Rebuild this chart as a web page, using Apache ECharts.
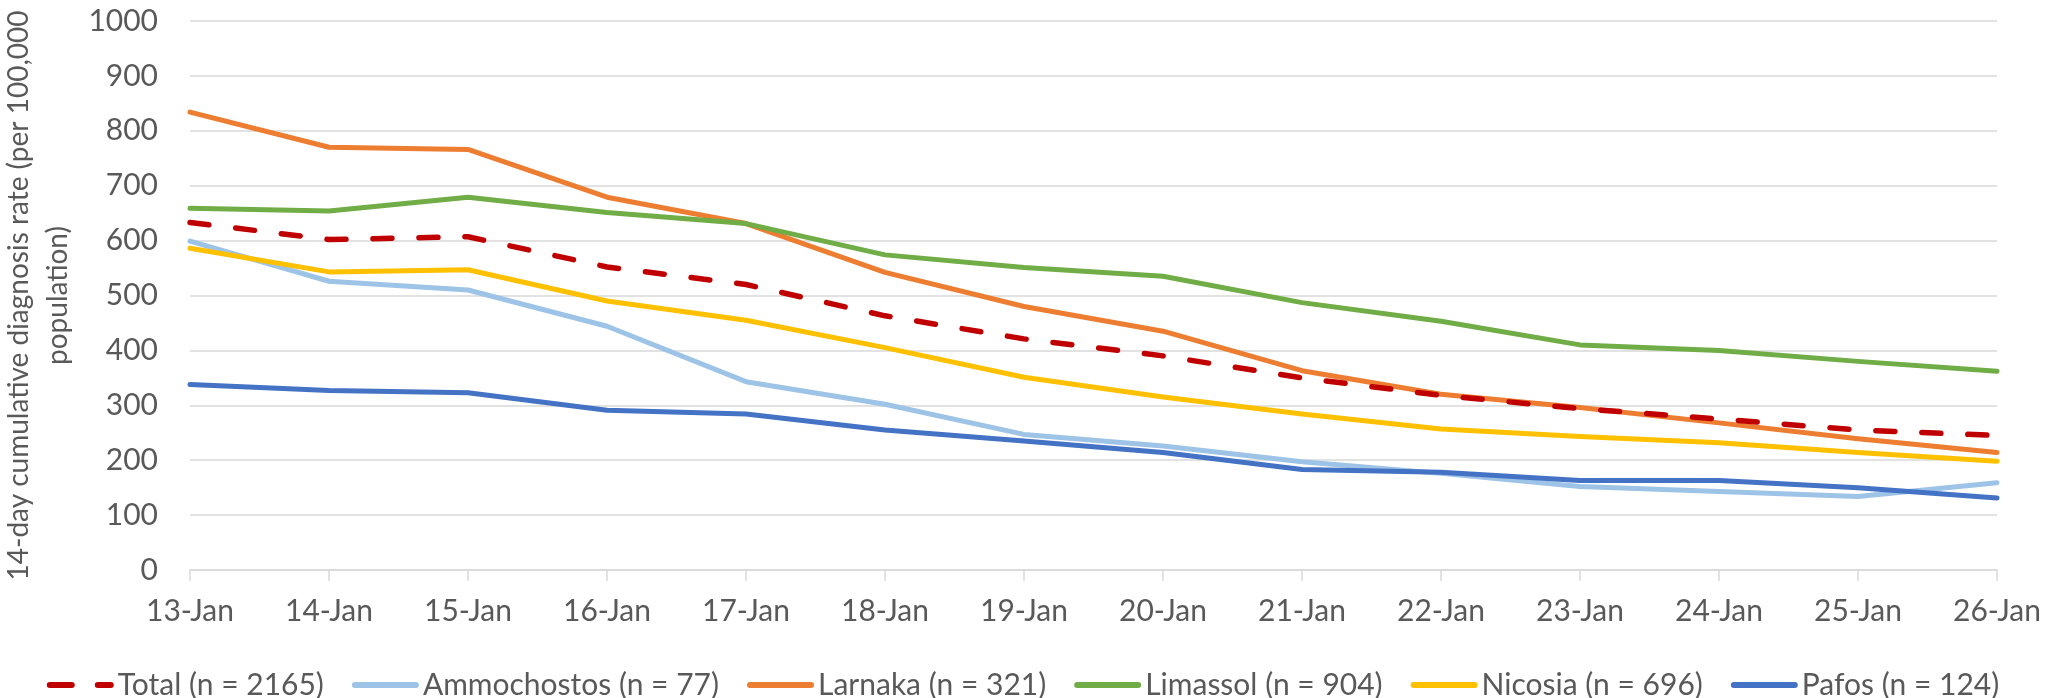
<!DOCTYPE html>
<html>
<head>
<meta charset="utf-8">
<script src="https://cdn.jsdelivr.net/npm/echarts@6/dist/echarts.min.js"></script>
<style>
  html, body { margin: 0; padding: 0; background: #fff; }
  #chart { width: 2046px; height: 698px; }
</style>
</head>
<body>
<div id="chart"></div>
<script>
const days = ["13-Jan", "14-Jan", "15-Jan", "16-Jan", "17-Jan", "18-Jan", "19-Jan",
  "20-Jan", "21-Jan", "22-Jan", "23-Jan", "24-Jan", "25-Jan", "26-Jan"];

const total = [633, 602, 607, 552, 520, 463, 421, 390, 350, 318, 294, 275, 255, 245];
const ammochostos = [599, 526, 510, 444, 343, 302, 247, 226, 197, 176, 152, 143, 134, 159];
const larnaka = [834, 770, 766, 679, 631, 542, 480, 435, 363, 320, 296, 268, 239, 214];
const limassol = [659, 654, 679, 651, 631, 574, 551, 535, 487, 453, 410, 400, 380, 362];
const nicosia = [586, 543, 547, 490, 455, 405, 351, 315, 284, 257, 243, 232, 214, 198];
const pafos = [338, 327, 323, 291, 284, 255, 235, 214, 183, 178, 163, 163, 150, 131];

const yTicks = { min: 0, max: 1000, step: 100 };

const textColor = "#595959";
const gridColor = "#D9D9D9";
const font = "Lato";

// legend icons: plain bar, and two dashes for the total
const barIcon = "path://M3,0h61a3,3 0 0 1 0,6h-61a3,3 0 0 1 0,-6z";
const dashIcon = "path://M3,0h22a3,3 0 0 1 0,6h-22a3,3 0 0 1 0,-6z M51,0h13a3,3 0 0 1 0,6h-13a3,3 0 0 1 0,-6z";

function solid(name, data, color) {
  return {
    name,
    type: "line",
    data,
    symbol: "none",
    smooth: false,
    lineStyle: { color, width: 5, cap: "round", join: "round" },
    itemStyle: { color },
  };
}

const seriesNames = ["Total (n = 2165)", "Ammochostos (n = 77)", "Larnaka (n = 321)",
  "Limassol (n = 904)", "Nicosia (n = 696)", "Pafos (n = 124)"];

const chart = echarts.init(document.getElementById("chart"));

chart.setOption({
  backgroundColor: "#fff",
  animation: false,
  grid: { left: 190, right: 49, top: 21, bottom: 128, outerBoundsMode: "none", containLabel: false },
  legend: {
    top: 665,
    left: "center",
    itemWidth: 67,
    itemHeight: 6,
    itemGap: 28,
    data: seriesNames.map((n, i) => ({ name: n, icon: i === 0 ? dashIcon : barIcon })),
    textStyle: { color: textColor, fontFamily: font, fontSize: 30, padding: [0, 0, 0, -1] },
  },
  xAxis: {
    type: "category",
    data: days,
    boundaryGap: false,
    axisLine: { lineStyle: { color: gridColor, width: 1.5 } },
    axisTick: { show: true, length: 11, lineStyle: { color: gridColor, width: 1.5 } },
    axisLabel: { color: textColor, fontFamily: font, fontSize: 30, margin: 26 },
  },
  yAxis: {
    type: "value",
    min: yTicks.min,
    max: yTicks.max,
    interval: yTicks.step,
    name: "14-day cumulative diagnosis rate (per 100,000\npopulation)",
    nameLocation: "middle",
    nameGap: 86,
    nameTextStyle: { color: textColor, fontFamily: font, fontSize: 28, lineHeight: 39, align: "center" },
    axisLine: { show: false },
    axisTick: { show: false },
    axisLabel: { color: textColor, fontFamily: font, fontSize: 30, margin: 32, formatter: (v) => String(v) },
    splitLine: { lineStyle: { color: gridColor, width: 1.5 } },
  },
  series: [
    {
      name: seriesNames[0],
      type: "line",
      data: total,
      symbol: "none",
      z: 5,
      lineStyle: { color: "#C00000", width: 5.5, type: [19, 27], cap: "round" },
      itemStyle: { color: "#C00000" },
    },
    solid(seriesNames[1], ammochostos, "#9DC3E6"),
    solid(seriesNames[2], larnaka, "#ED7D31"),
    solid(seriesNames[3], limassol, "#70AD47"),
    solid(seriesNames[4], nicosia, "#FFC000"),
    solid(seriesNames[5], pafos, "#4472C4"),
  ],
});
</script>
</body>
</html>
